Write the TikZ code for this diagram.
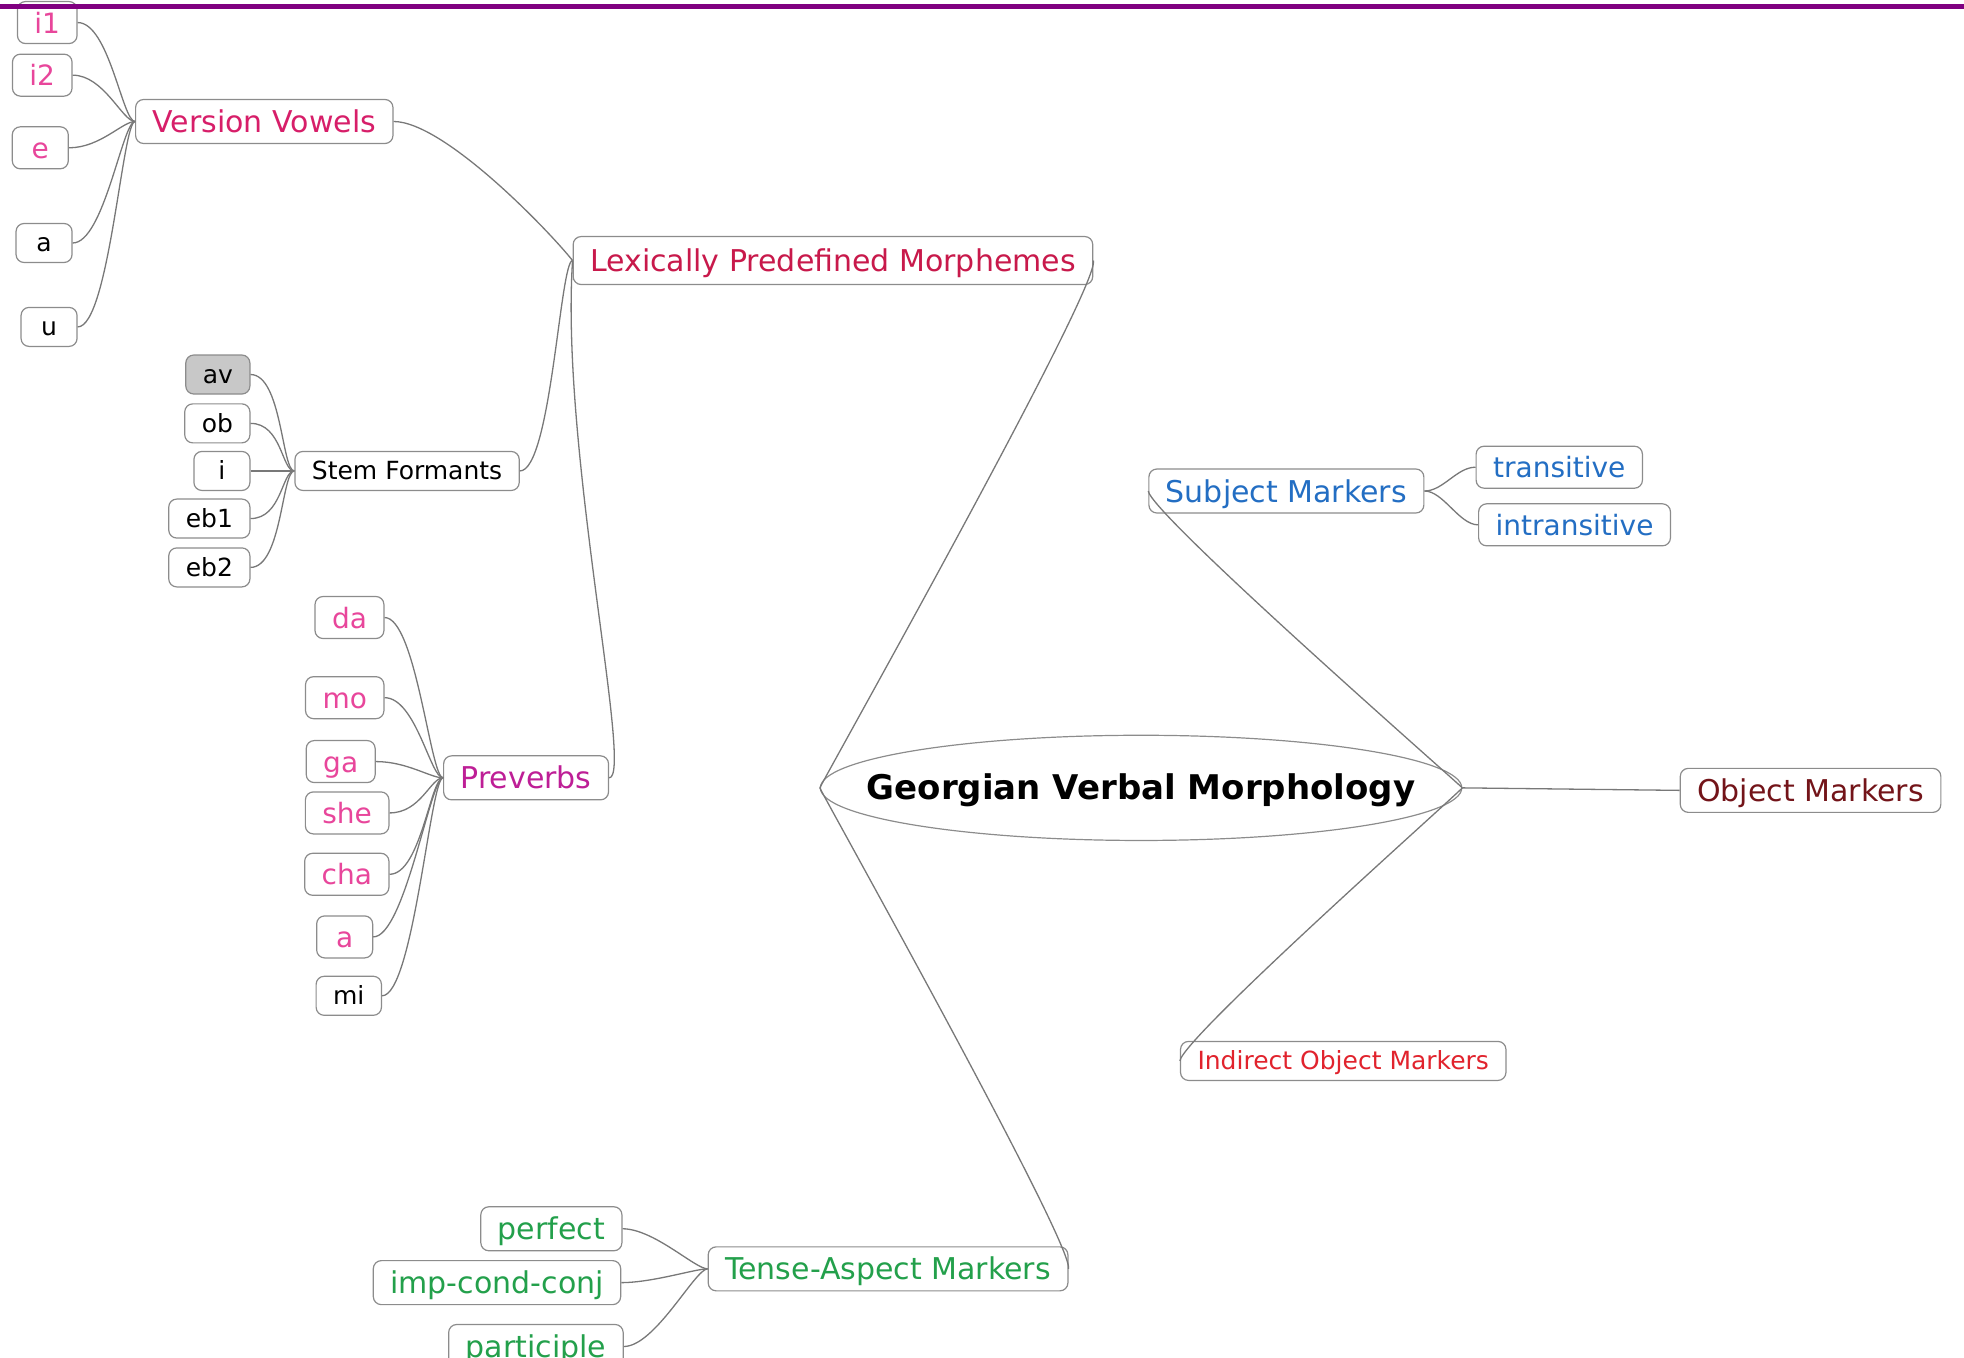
\documentclass[tikz,border=0pt]{standalone}
\usepackage{fontspec}
\setmainfont{DejaVu Sans}
\usetikzlibrary{shapes.geometric}

\definecolor{boxgray}{RGB}{140,140,140}
\definecolor{linkgray}{RGB}{120,120,120}
\definecolor{pinkleaf}{RGB}{232,70,155}
\definecolor{vvred}{RGB}{215,30,105}
\definecolor{lpmred}{RGB}{200,25,75}
\definecolor{pvmag}{RGB}{190,30,150}
\definecolor{smblue}{RGB}{35,110,195}
\definecolor{omred}{RGB}{115,20,25}
\definecolor{iomred}{RGB}{225,35,45}
\definecolor{tamgreen}{RGB}{35,160,75}
\definecolor{avfill}{RGB}{200,200,200}
\definecolor{topline}{RGB}{128,0,128}

\begin{document}
\begin{tikzpicture}[x=0.6263pt,y=-0.6263pt,
	box/.style={draw=boxgray, rounded corners=4pt, line width=0.6pt, fill=white, inner xsep=8.5pt, inner ysep=0pt, minimum width=28pt},
	big/.style={box, font=\fontsize{15}{18}\selectfont, text height=13pt, text depth=2pt, minimum height=22pt},
	mid/.style={box, font=\fontsize{14}{17}\selectfont, text height=12.5pt, text depth=2pt, minimum height=21pt},
	small/.style={box, font=\fontsize{12.5}{15}\selectfont, text height=11pt, text depth=2pt, minimum height=19.5pt},
	link/.style={draw=linkgray, line width=0.65pt}]
	\useasboundingbox (0,0) rectangle (1568,1084);
	\clip (0,0) rectangle (1568,1084);

	% centre
	\node[ellipse, draw=boxgray, line width=0.6pt, minimum width=320.7pt, minimum height=52.6pt, inner sep=0pt] (gvm) at (911,629) {};
	\node[font=\bfseries\fontsize{17}{20}\selectfont, text height=15pt, text depth=3pt] (gvmtext) at (911,629) {Georgian Verbal Morphology};

	% left branch
	\node[big, text=lpmred, minimum height=24pt] (lpm) at (665,208) {Lexically Predefined Morphemes};
	\node[big, text=vvred] (vv) at (211,97) {Version Vowels};
	\node[small] (sf) at (325,376) {Stem Formants};
	\node[big, text=pvmag] (pv) at (420,621) {Preverbs};
	\node[big, text=tamgreen] (tam) at (709,1013) {Tense-Aspect Markers};

	\node[mid, text=pinkleaf, anchor=east] (vi1) at (62,18) {i1};
	\node[mid, text=pinkleaf, anchor=east] (vi2) at (58,60) {i2};
	\node[mid, text=pinkleaf, anchor=east] (ve) at (55,118) {e};
	\node[small, anchor=east] (va) at (58,194) {a};
	\node[small, anchor=east] (vu) at (62,261) {u};

	\node[small, fill=avfill, anchor=east] (sav) at (200,299) {av};
	\node[small, anchor=east] (sob) at (200,338) {ob};
	\node[small, anchor=east] (si) at (200,376) {i};
	\node[small, anchor=east] (seb1) at (200,414) {eb1};
	\node[small, anchor=east] (seb2) at (200,453) {eb2};

	\node[mid, text=pinkleaf, anchor=east] (pda) at (307,493) {da};
	\node[mid, text=pinkleaf, anchor=east] (pmo) at (307,557) {mo};
	\node[mid, text=pinkleaf, anchor=east] (pga) at (300,608) {ga};
	\node[mid, text=pinkleaf, anchor=east] (pshe) at (311,649) {she};
	\node[mid, text=pinkleaf, anchor=east] (pcha) at (311,698) {cha};
	\node[mid, text=pinkleaf, anchor=east] (pa) at (298,748) {a};
	\node[small, anchor=east] (pmi) at (305,795) {mi};

	\node[big, text=tamgreen, anchor=east] (tperf) at (497,981) {perfect};
	\node[big, text=tamgreen, anchor=east] (ticc) at (496,1024) {imp-cond-conj};
	\node[big, text=tamgreen, anchor=east] (tpart) at (498,1075) {participle};

	% right branch
	\node[big, text=smblue] (sm) at (1027,392) {Subject Markers};
	\node[mid, text=smblue, anchor=west] (str) at (1178,373) {transitive};
	\node[mid, text=smblue, anchor=west] (sin) at (1180,419) {intransitive};
	\node[big, text=omred, anchor=west] (om) at (1341,631) {Object Markers};
	\node[small, text=iomred, anchor=west] (iom) at (942,847) {Indirect Object Markers};

	% connectors
	\foreach \nm in {vi1,vi2,ve,va,vu}
		\draw[link] (\nm.east) .. controls +(25,0) and +(-10,0) .. (vv.west);
	\foreach \nm in {sav,sob,si,seb1,seb2}
		\draw[link] (\nm.east) .. controls +(25,0) and +(-10,0) .. (sf.west);
	\foreach \nm in {pda,pmo,pga,pshe,pcha,pa,pmi}
		\draw[link] (\nm.east) .. controls +(25,0) and +(-10,0) .. (pv.west);
	\foreach \nm in {tperf,ticc,tpart}
		\draw[link] (\nm.east) .. controls +(25,0) and +(-10,0) .. (tam.west);
	\foreach \nm in {str,sin}
		\draw[link] (sm.east) .. controls +(15,0) and +(-15,0) .. (\nm.west);

	\draw[link] (vv.east) .. controls +(40,0) and +(-20,-25) .. (lpm.west);
	\draw[link] (sf.east) .. controls +(25,0) and +(-10,0) .. (lpm.west);
	\draw[link] (pv.east) .. controls +(20,0) and +(-10,150) .. (lpm.west);

	\draw[link] (lpm.east) .. controls +(6,20) and +(8,-16) .. (gvm.west);
	\draw[link] (gvm.west) .. controls +(8,16) and +(4,-20) .. (tam.east);
	\draw[link] (gvm.east) .. controls +(-15,-14) and +(2,18) .. (sm.west);
	\draw[link] (gvm.east) .. controls +(-14,14) and +(2,-18) .. (iom.west);
	\draw[link] (gvm.east) -- (om.west);

	\draw[topline, line width=2.4pt] (0,5) -- (1568,5);
\end{tikzpicture}
\end{document}
